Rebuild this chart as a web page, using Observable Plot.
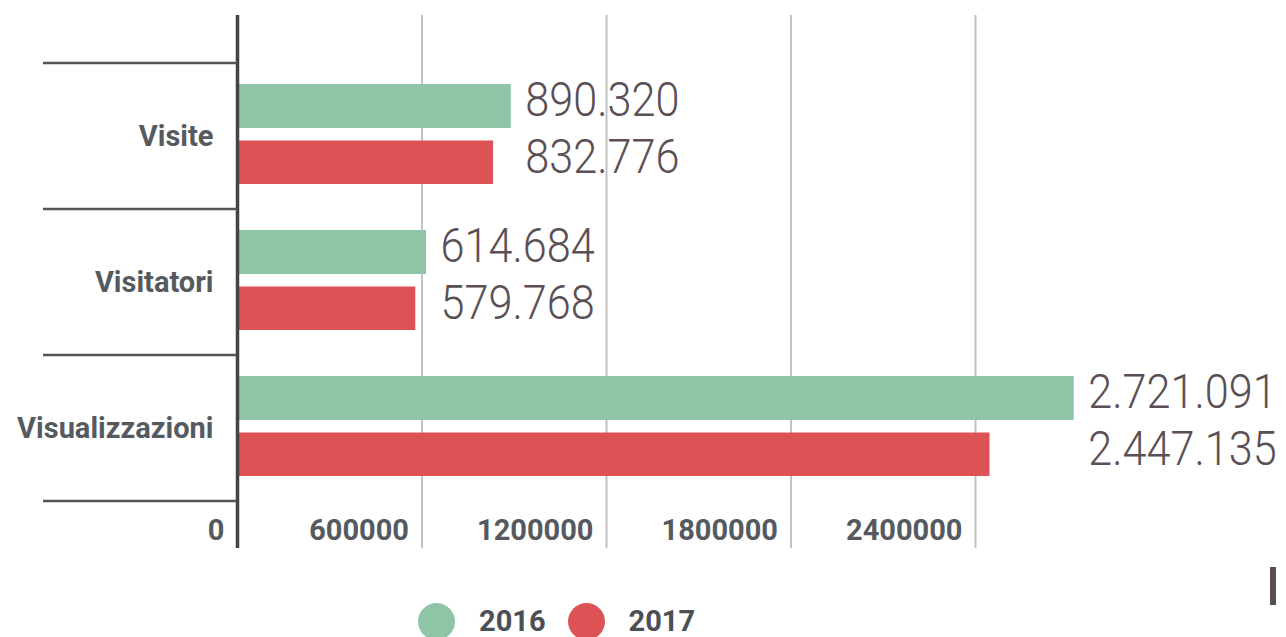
<!DOCTYPE html>
<html>
<head>
<meta charset="utf-8">
<script src="https://cdn.jsdelivr.net/npm/d3@7"></script>
<script src="https://cdn.jsdelivr.net/npm/@observablehq/plot@0.6"></script>
<style>
  html, body { margin: 0; padding: 0; background: #fff; }
  #wrap { position: relative; width: 1286px; height: 637px; overflow: hidden; font-family: Roboto, sans-serif; }
  #legend { position: absolute; left: 418px; top: 603px; display: flex; align-items: center; font: 700 29px Roboto, sans-serif; color: #4d4f57; }
  #legend .dot { width: 37px; height: 37px; border-radius: 50%; }
  #legend .lab { margin-left: 24px; margin-right: 22px; line-height: 37px; }
  #cursor { position: absolute; left: 1270px; top: 567px; width: 6px; height: 38px; background: #5a4e55; }
</style>
</head>
<body>
<div id="wrap"></div>
<script>
const categories = ["Visite", "Visitatori", "Visualizzazioni"];
const values2016 = [890320, 614684, 2721091];
const values2017 = [832776, 579768, 2447135];
const xTicks = [0, 600000, 1200000, 1800000, 2400000];
const seriesNames = ["2016", "2017"];
const seriesColors = ["#8fc4a7", "#dc5255"];

const it = d3.formatLocale({decimal: ",", thousands: ".", grouping: [3], currency: ["€", ""]});
const fmt = it.format(",d");

const rows2016 = categories.map((c, i) => ({category: c, value: values2016[i], anchor: Math.max(values2016[i], values2017[i])}));
const rows2017 = categories.map((c, i) => ({category: c, value: values2017[i], anchor: Math.max(values2016[i], values2017[i])}));

const labelStyle = {fontSize: 48, fontWeight: 300, fill: "#5a4f55", textAnchor: "start", lineAnchor: "middle", dx: 14, ariaDescription: "values"};

const plot = Plot.plot({
  width: 1286,
  height: 600,
  marginTop: 15,
  marginBottom: 52,
  marginLeft: 237,
  marginRight: 126.5,
  style: {fontFamily: "Roboto, sans-serif", background: "transparent"},
  x: {domain: [0, 3000000], axis: null, label: null},
  y: {domain: categories, range: [62, 502], padding: 0, axis: null, label: null},
  marks: [
    Plot.ruleX(xTicks.filter(d => d !== 0), {stroke: "#c2c2c2", strokeWidth: 2}),
    Plot.barX(rows2016, {x: "value", y: "category", fill: seriesColors[0], insetTop: 21, insetBottom: 81}),
    Plot.barX(rows2017, {x: "value", y: "category", fill: seriesColors[1], insetTop: 77.5, insetBottom: 25}),
    Plot.ruleX([0], {stroke: "#444", strokeWidth: 3.5}),
    Plot.axisX(xTicks, {anchor: "bottom", label: null, tickSize: 0, tickPadding: 0, dy: -29, dx: -13, textAnchor: "end", tickFormat: d => String(d), fontSize: 29, fontWeight: 700, fill: "#555a60"}),
    Plot.axisY({anchor: "left", label: null, tickSize: 0, tickPadding: 24, fontSize: 29, fontWeight: 700, fill: "#555a60"}),
    Plot.text(rows2016, {x: "anchor", y: "category", text: d => fmt(d.value), dy: -36, ...labelStyle}),
    Plot.text(rows2017, {x: "anchor", y: "category", text: d => fmt(d.value), dy: 21, ...labelStyle})
  ]
});

const wrap = document.getElementById("wrap");
wrap.appendChild(plot);

// category separators in the left margin, from the library's y scale
const ys = plot.scale("y");
const bw = ys.bandwidth;
const edges = categories.map(c => ys.apply(c)).concat([ys.apply(categories[categories.length - 1]) + bw]);
d3.select(plot).append("g").attr("aria-label", "separators")
  .selectAll("line").data(edges).join("line")
  .attr("x1", 43).attr("x2", 237)
  .attr("y1", d => d).attr("y2", d => d)
  .attr("stroke", "#555").attr("stroke-width", 2.5);

// condense the value labels horizontally (narrow light face)
d3.select(plot).selectAll('g[aria-description="values"] text').each(function () {
  const t = this.getAttribute("transform") || "";
  this.setAttribute("transform", (t + " scale(0.9,1)").trim());
});

// legend
const legend = d3.select(wrap).append("div").attr("id", "legend");
seriesNames.forEach((n, i) => {
  legend.append("span").attr("class", "dot").style("background", seriesColors[i]);
  legend.append("span").attr("class", "lab").text(n);
});
d3.select(wrap).append("div").attr("id", "cursor");
</script>
</body>
</html>
